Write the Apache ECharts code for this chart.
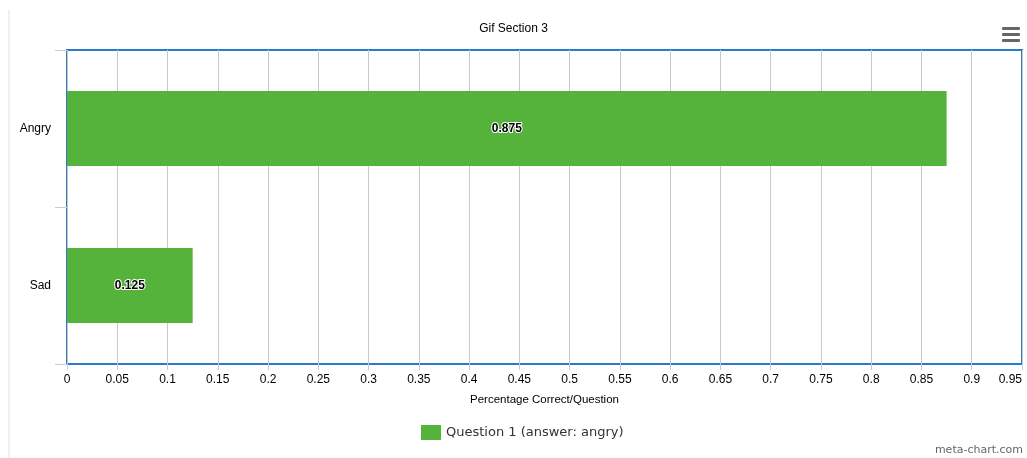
<!DOCTYPE html>
<html>
<head>
<meta charset="utf-8">
<script src="https://cdn.jsdelivr.net/npm/echarts@6/dist/echarts.min.js"></script>
<style>
  html, body { margin: 0; padding: 0; background: #fff; }
  #chart { width: 1027px; height: 458px; }
</style>
</head>
<body>
<div id="chart"></div>
<script>
// data
const categories = ['Angry', 'Sad'];
const values = [0.875, 0.125];
const seriesName = 'Question 1 (answer: angry)';
const xTicks = [0, 0.05, 0.1, 0.15, 0.2, 0.25, 0.3, 0.35, 0.4, 0.45, 0.5, 0.55, 0.6, 0.65, 0.7, 0.75, 0.8, 0.85, 0.9, 0.95];

const chart = echarts.init(document.getElementById('chart'));
const option = {
    animation: false,
    title: {
        text: 'Gif Section 3', left: 'center', top: 18,
        textStyle: { fontFamily: 'Liberation Sans', fontSize: 12, fontWeight: 'normal', color: '#000' }
    },
    grid: {
        left: 67, right: 5, top: 50, bottom: 94,
        outerBoundsMode: 'none',
        show: true, borderColor: '#2b7bcb', borderWidth: 2, backgroundColor: '#fff'
    },
    legend: {
        bottom: 13, left: 416, itemWidth: 20, itemHeight: 15, itemGap: 8,
        icon: 'rect',
        textStyle: { fontFamily: 'DejaVu Sans', fontSize: 13, color: '#333' },
        data: [seriesName]
    },
    xAxis: {
        type: 'value', min: 0, max: xTicks[xTicks.length - 1], interval: 0.05,
        name: 'Percentage Correct/Question', nameLocation: 'middle', nameGap: 30,
        nameTextStyle: { fontFamily: 'Liberation Sans', fontSize: 11.5, color: '#000' },
        axisLine: { show: false },
        axisTick: { show: true, length: 6, lineStyle: { color: '#c0d0e0' } },
        axisLabel: {
            fontFamily: 'Liberation Sans', fontSize: 12, color: '#000', margin: 10,
            alignMaxLabel: 'right',
            formatter: v => String(+v.toFixed(2))
        },
        splitLine: { show: true, lineStyle: { color: '#c8c8c8', width: 1 } }
    },
    yAxis: {
        type: 'category', data: categories, inverse: true,
        axisLine: { show: false },
        axisTick: { show: true, length: 12, lineStyle: { color: '#c0d0e0' } },
        axisLabel: { fontFamily: 'Liberation Sans', fontSize: 12, color: '#000', margin: 16 },
        splitLine: { show: false }
    },
    series: [{
        name: seriesName,
        type: 'bar',
        data: values,
        barWidth: 75,
        itemStyle: { color: '#55b23b' },
        label: {
            show: true, position: 'inside',
            fontFamily: 'Liberation Sans', fontSize: 12, fontWeight: 'bold', color: '#000',
            textBorderColor: '#fff', textBorderWidth: 2
        }
    }],
    graphic: [
        { type: 'line', shape: { x1: 9, y1: 10, x2: 9, y2: 458 }, style: { stroke: '#e0e0e0', lineWidth: 1 } },
        { type: 'rect', shape: { x: 1002, y: 27, width: 18, height: 3, r: 1 }, style: { fill: '#666' } },
        { type: 'rect', shape: { x: 1002, y: 33, width: 18, height: 3, r: 1 }, style: { fill: '#666' } },
        { type: 'rect', shape: { x: 1002, y: 39, width: 18, height: 3, r: 1 }, style: { fill: '#666' } },
        { type: 'text', right: 4, bottom: 2,
          style: { text: 'meta-chart.com', fontFamily: 'DejaVu Sans', fontSize: 11, fill: '#666' } }
    ]
};
chart.setOption(option);
</script>
</body>
</html>
